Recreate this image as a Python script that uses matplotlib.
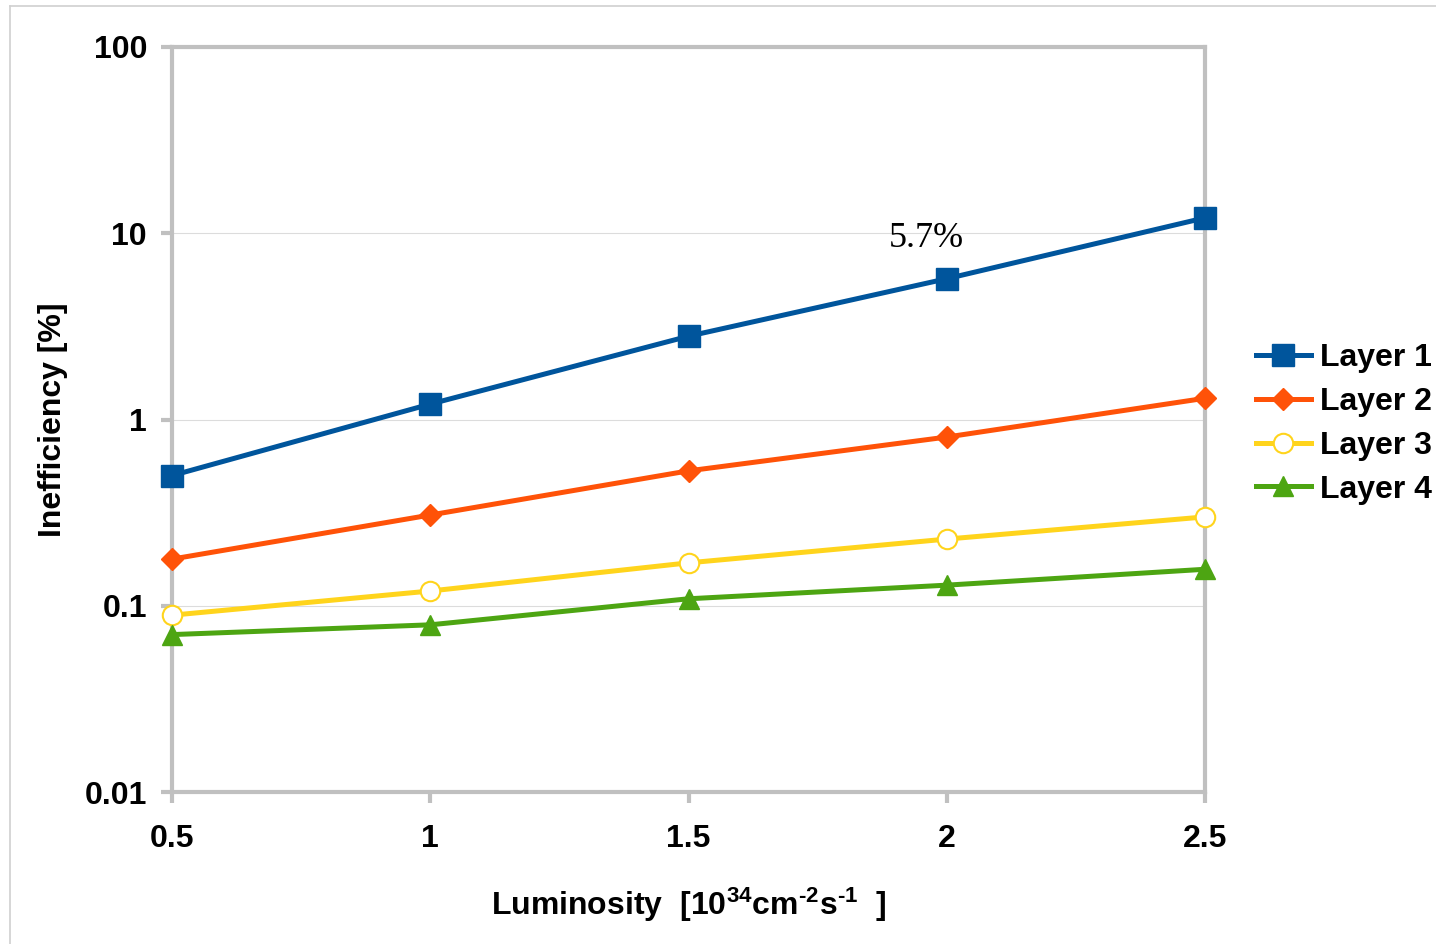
import matplotlib
matplotlib.use('Agg')
import matplotlib.pyplot as plt
from matplotlib.lines import Line2D
from matplotlib.ticker import FixedLocator, FixedFormatter

plt.rcParams['font.family'] = ['Liberation Sans', 'DejaVu Sans']
plt.rcParams['font.weight'] = 'bold'
plt.rcParams['mathtext.fontset'] = 'custom'
plt.rcParams['mathtext.rm'] = 'Liberation Sans:bold'
plt.rcParams['mathtext.bf'] = 'Liberation Sans:bold'
plt.rcParams['mathtext.default'] = 'bf'

# Luminosity in units of 1e34 cm^-2 s^-1
luminosity = [0.5, 1.0, 1.5, 2.0, 2.5]

# Inefficiency [%] per layer
layer1 = [0.50, 1.21, 2.80, 5.7, 12.1]
layer2 = [0.178, 0.307, 0.53, 0.805, 1.30]
layer3 = [0.089, 0.12, 0.17, 0.228, 0.30]
layer4 = [0.070, 0.079, 0.109, 0.129, 0.157]

layer_names = ['Layer 1', 'Layer 2', 'Layer 3', 'Layer 4']
y_ticks = [0.01, 0.1, 1, 10, 100]
y_ticklabels = ['0.01', '0.1', '1', '10', '100']
x_ticks = [0.5, 1, 1.5, 2, 2.5]
x_ticklabels = ['0.5', '1', '1.5', '2', '2.5']

FS = 23

colors = ['#00559c', '#ff5208', '#ffd41c', '#4da512']
series = [layer1, layer2, layer3, layer4]
marker_styles = [
    dict(marker='s', markersize=16, markerfacecolor=colors[0], markeredgecolor=colors[0]),
    dict(marker='D', markersize=11, markerfacecolor=colors[1], markeredgecolor=colors[1]),
    dict(marker='o', markersize=14, markerfacecolor='white', markeredgecolor=colors[2],
         markeredgewidth=1.5),
    dict(marker='^', markersize=15, markerfacecolor=colors[3], markeredgecolor=colors[3]),
]

fig = plt.figure(figsize=(14.36, 9.44), dpi=100)
ax = fig.add_axes([172 / 1436, 1 - 792 / 944, (1205 - 172) / 1436, (792 - 47) / 944])

for vals, name, col, ms in zip(series, layer_names, colors, marker_styles):
    ax.plot(luminosity, vals, color=col, lw=3.6, label=name, clip_on=False, zorder=3, **ms)

ax.set_yscale('log')
ax.set_ylim(0.01, 100)
ax.set_xlim(0.5, 2.5)
ax.yaxis.set_major_locator(FixedLocator(y_ticks))
ax.yaxis.set_major_formatter(FixedFormatter(y_ticklabels))
ax.yaxis.set_minor_locator(FixedLocator([]))
ax.set_xticks(x_ticks)
ax.set_xticklabels(x_ticklabels)

ax.grid(axis='y', which='major', color='#dcdcdc', lw=0.8)
ax.set_axisbelow(True)
for sp in ax.spines.values():
    sp.set_color('#c0c0c0')
    sp.set_linewidth(3)
ax.tick_params(axis='both', which='major', direction='out', color='#c0c0c0',
               width=3, length=8, labelsize=FS)
ax.tick_params(axis='x', pad=15)
ax.tick_params(axis='y', pad=10)
for lab in ax.get_xticklabels() + ax.get_yticklabels():
    lab.set_fontweight('bold')

ax.set_ylabel('Inefficiency [%]', fontsize=FS, fontweight='bold', labelpad=12)
ax.set_xlabel(r'Luminosity  [10$^{34}$cm$^{\text{-}2}$s$^{\text{-}1}$  ]', fontsize=FS,
              fontweight='bold', labelpad=23)

ax.annotate('5.7%', xy=(luminosity[3], layer1[3]), xytext=(-15, 29),
            textcoords='offset points', ha='center', va='center',
            fontsize=26, fontweight='normal', family='Liberation Serif')

fig.legend(loc='center left', bbox_to_anchor=(1256 / 1436, 1 - 424 / 944),
           frameon=False, fontsize=FS, handlelength=1.72, handletextpad=0.28,
           labelspacing=0.43, borderpad=0, borderaxespad=0)

# thin frame around the drawing
border = dict(color='#d0d0d0', lw=1.2, transform=fig.transFigure)
fig.add_artist(Line2D([10 / 1436, 10 / 1436], [0, 1 - 6 / 944], **border))
fig.add_artist(Line2D([10 / 1436, 1], [1 - 6 / 944, 1 - 6 / 944], **border))

fig.savefig('out.png', dpi=100, facecolor='white')
